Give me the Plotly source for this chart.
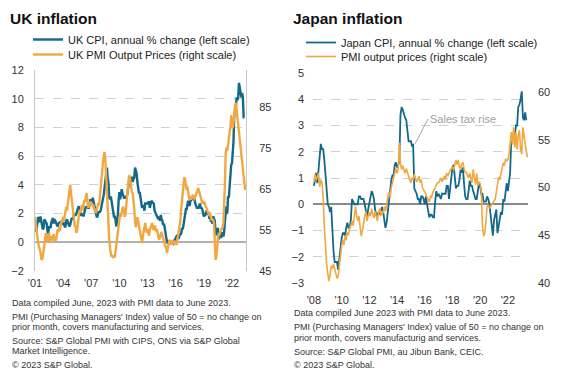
import plotly.graph_objects as go
import pandas as pd

# ---------------- DATA ----------------
uk_start = "2001-01-01"
uk_cpi = [
    0.9, 0.8, 0.9, 1.2, 1.7, 1.7, 1.4, 1.8, 1.3, 1.2, 0.9, 1.0,
    1.6, 1.5, 1.5, 1.3, 0.8, 0.6, 1.1, 1.0, 1.0, 1.4, 1.5, 1.7,
    1.3, 1.6, 1.5, 1.4, 1.3, 1.1, 1.3, 1.4, 1.4, 1.4, 1.3, 1.3,
    1.4, 1.3, 1.1, 1.1, 1.5, 1.6, 1.4, 1.3, 1.1, 1.2, 1.5, 1.7,
    1.6, 1.7, 1.9, 1.9, 1.9, 2.0, 2.3, 2.4, 2.5, 2.3, 2.1, 1.9,
    1.9, 2.0, 1.8, 2.0, 2.2, 2.5, 2.4, 2.5, 2.4, 2.4, 2.7, 3.0,
    2.7, 2.8, 3.1, 2.8, 2.5, 2.4, 1.9, 1.8, 1.8, 2.1, 2.1, 2.1,
    2.2, 2.5, 2.5, 3.0, 3.3, 3.8, 4.4, 4.7, 5.2, 4.5, 4.1, 3.1,
    3.0, 3.2, 2.9, 2.3, 2.2, 1.8, 1.8, 1.6, 1.1, 1.5, 1.9, 2.9,
    3.5, 3.0, 3.4, 3.7, 3.4, 3.2, 3.1, 3.1, 3.1, 3.2, 3.3, 3.7,
    4.0, 4.4, 4.0, 4.5, 4.5, 4.2, 4.4, 4.5, 5.2, 5.0, 4.8, 4.2,
    3.6, 3.4, 3.5, 3.0, 2.8, 2.4, 2.6, 2.5, 2.2, 2.7, 2.7, 2.7,
    2.7, 2.8, 2.8, 2.4, 2.7, 2.9, 2.8, 2.7, 2.7, 2.2, 2.1, 2.0,
    1.9, 1.7, 1.6, 1.8, 1.5, 1.9, 1.6, 1.5, 1.2, 1.3, 1.0, 0.5,
    0.3, 0.0, 0.0, -0.1, 0.1, 0.0, 0.1, 0.0, -0.1, -0.1, 0.1, 0.2,
    0.3, 0.3, 0.5, 0.3, 0.3, 0.5, 0.6, 0.6, 1.0, 0.9, 1.2, 1.6,
    1.8, 2.3, 2.3, 2.7, 2.9, 2.6, 2.6, 2.9, 3.0, 3.0, 3.1, 3.0,
    3.0, 2.7, 2.5, 2.4, 2.4, 2.4, 2.5, 2.7, 2.4, 2.4, 2.3, 2.1,
    1.8, 1.9, 1.9, 2.1, 2.0, 2.0, 2.1, 1.7, 1.7, 1.5, 1.5, 1.3,
    1.8, 1.7, 1.5, 0.8, 0.5, 0.6, 1.0, 0.2, 0.5, 0.7, 0.3, 0.6,
    0.7, 0.4, 0.7, 1.5, 2.1, 2.5, 2.0, 3.2, 3.1, 4.2, 5.1, 5.4,
    5.5, 6.2, 7.0, 9.0, 9.1, 9.4, 10.1, 9.9, 10.1, 11.1, 10.7, 10.5,
    10.1, 10.4, 10.1, 8.7, 8.7,
]
uk_pmi = [
    58.2, 56.5, 55.0, 52.6, 52.0, 51.0, 50.5, 49.6, 48.0, 47.7, 48.6, 49.6,
    51.5, 53.0, 54.3, 53.2, 52.1, 52.8, 54.3, 53.0, 52.1, 53.5, 52.5, 53.2,
    54.0, 52.1, 53.0, 52.4, 54.0, 55.2, 54.4, 55.7, 54.8, 56.5, 57.5, 56.8,
    58.2, 57.2, 58.8, 59.5, 60.6, 59.8, 61.8, 63.2, 64.5, 66.0, 64.2, 62.3,
    61.5, 59.5, 57.5, 55.7, 56.2, 54.3, 55.0, 56.5, 58.0, 59.9, 59.2, 60.6,
    61.1, 59.8, 61.5, 62.3, 61.8, 63.5, 64.0, 62.6, 60.4, 60.8, 61.6, 62.0,
    61.2, 61.6, 60.5, 61.2, 59.8, 60.2, 59.1, 59.8, 60.3, 61.6, 61.0, 63.5,
    65.5, 67.5, 69.0, 71.5, 73.0, 74.0, 72.5, 67.9, 63.5, 58.5, 54.5, 52.6,
    50.5, 49.2, 48.4, 48.8, 48.2, 48.6, 48.3, 49.8, 51.2, 53.5, 55.0, 56.2,
    57.5, 59.1, 58.2, 59.6, 60.4, 60.6, 59.5, 58.2, 59.3, 61.5, 63.5, 66.2,
    67.8, 68.4, 66.8, 66.0, 64.2, 64.0, 62.5, 60.3, 57.2, 55.7, 56.8, 58.1,
    57.2, 56.0, 55.7, 53.8, 52.6, 51.8, 53.4, 54.8, 55.2, 56.7, 55.4, 54.3,
    55.2, 54.3, 53.6, 55.1, 55.6, 56.2, 56.7, 55.4, 55.0, 56.1, 55.3, 55.0,
    55.2, 53.8, 53.1, 52.6, 53.6, 54.2, 54.3, 53.5, 53.0, 52.6, 51.8, 50.9,
    50.5, 49.4, 50.6, 52.0, 52.6, 51.8, 51.4, 52.5, 51.9, 51.5, 52.2, 52.1,
    52.1, 51.3, 52.6, 53.9, 55.7, 55.9, 57.2, 60.0, 62.3, 64.2, 66.0, 67.9,
    67.2, 66.1, 64.8, 65.6, 63.8, 63.0, 62.3, 63.2, 62.4, 63.1, 63.6, 62.8,
    62.6, 63.2, 63.6, 64.1, 64.6, 65.2, 64.4, 63.4, 63.0, 62.3, 61.4, 62.1,
    61.6, 61.8, 60.9, 60.6, 60.2, 59.4, 59.1, 58.4, 59.2, 58.1, 57.4, 57.6,
    57.4, 56.8, 52.2, 47.7, 48.6, 51.2, 53.1, 54.3, 53.8, 54.6, 55.0, 55.3,
    55.7, 56.6, 60.2, 66.3, 73.8, 75.1, 74.2, 75.6, 76.4, 77.7, 80.2, 83.0,
    81.5, 79.8, 81.0, 83.5, 85.4, 86.0, 84.2, 81.2, 79.3, 77.7, 76.1, 75.0,
    73.2, 71.3, 69.8, 68.2, 66.4, 64.8,
]

jp_start = "2008-01-01"
jp_cpi = [
    0.7, 1.0, 1.2, 0.8, 1.3, 2.0, 2.3, 2.1, 2.1, 1.7, 1.0, 0.4,
    0.0, -0.1, -0.3, -0.1, -1.1, -1.8, -2.2, -2.2, -2.2, -2.5, -1.9, -1.7,
    -1.3, -1.1, -1.1, -1.2, -0.9, -0.7, -0.9, -0.9, -0.6, 0.2, 0.1, 0.0,
    0.0, 0.0, 0.0, 0.3, 0.3, 0.2, 0.2, 0.2, 0.0, -0.2, -0.5, -0.2,
    0.1, 0.3, 0.5, 0.4, 0.2, -0.2, -0.4, -0.4, -0.3, -0.4, -0.2, -0.1,
    -0.3, -0.6, -0.9, -0.7, -0.3, 0.2, 0.7, 0.9, 1.1, 1.1, 1.5, 1.6,
    1.4, 1.5, 1.6, 3.4, 3.7, 3.6, 3.4, 3.3, 3.2, 2.9, 2.4, 2.4,
    2.4, 2.2, 2.3, 0.6, 0.5, 0.4, 0.2, 0.2, 0.0, 0.3, 0.3, 0.2,
    0.0, 0.3, 0.0, -0.3, -0.5, -0.4, -0.4, -0.5, -0.5, 0.1, 0.5, 0.3,
    0.4, 0.3, 0.2, 0.4, 0.4, 0.4, 0.4, 0.7, 0.7, 0.2, 0.6, 1.0,
    1.4, 1.5, 1.1, 0.6, 0.7, 0.7, 0.9, 1.3, 1.2, 1.4, 0.8, 0.3,
    0.2, 0.2, 0.5, 0.9, 0.7, 0.7, 0.5, 0.3, 0.2, 0.2, 0.5, 0.8,
    0.7, 0.4, 0.4, 0.1, 0.1, 0.1, 0.3, 0.2, 0.0, -0.4, -0.9, -1.2,
    -0.6, -0.4, -0.2, -1.1, -0.8, -0.5, -0.3, -0.4, 0.2, 0.1, 0.6, 0.8,
    0.5, 0.9, 1.2, 2.5, 2.5, 2.4, 2.6, 3.0, 3.0, 3.7, 3.8, 4.0,
    4.3, 3.3, 3.2, 3.5, 3.2,
]
jp_pmi = [
    50.6, 51.4, 50.8, 51.2, 51.5, 50.1, 50.8, 50.5, 49.0, 46.0, 43.5, 42.0,
    41.0, 40.2, 40.8, 41.8, 41.5, 42.0, 41.5, 41.0, 40.5, 40.7, 42.0, 43.0,
    43.9, 44.5, 44.0, 45.0, 44.5, 45.3, 45.0, 45.8, 46.0, 46.5, 46.0, 47.0,
    48.0, 47.0, 46.5, 47.0, 46.0, 44.9, 45.5, 46.5, 47.0, 47.5, 46.5, 47.0,
    47.4, 47.0, 47.8, 47.2, 46.8, 47.5, 47.0, 46.5, 47.4, 47.8, 47.0, 47.5,
    47.4, 48.0, 47.5, 48.5, 49.0, 49.5, 49.0, 50.0, 50.5, 51.0, 51.5, 52.0,
    51.5, 52.0, 54.7, 52.5, 51.9, 52.3, 51.8, 51.5, 52.0, 51.5, 51.0, 50.8,
    50.5, 51.0, 50.8, 51.4, 51.0, 50.6, 50.8, 51.2, 50.5, 50.8, 50.0, 49.8,
    49.5, 49.3, 49.0, 48.8, 48.5, 49.1, 49.0, 49.5, 49.8, 50.0, 50.3, 50.5,
    50.5, 50.8, 51.0, 50.6, 51.0, 51.2, 50.8, 51.5, 51.2, 51.6, 51.8, 52.0,
    52.2, 51.8, 52.5, 52.9, 52.4, 52.9, 52.2, 51.9, 52.5, 52.6, 52.0, 51.6,
    51.6, 51.2, 51.0, 51.5, 50.8, 50.5, 51.9, 50.8, 50.3, 51.5, 50.2, 50.6,
    50.4, 49.5, 46.0, 44.9, 45.2, 46.5, 48.0, 48.2, 47.8, 48.0, 48.2, 48.4,
    48.5, 48.8, 49.5, 50.2, 51.1, 50.8, 51.5, 52.0, 52.6, 52.3, 53.0, 52.8,
    52.9, 53.5, 55.0, 55.8, 54.5, 56.3, 54.2, 55.8, 54.0, 55.5, 56.0, 54.0,
    53.5, 56.3, 55.5, 54.5, 53.8, 53.2,
]

uk_tick_years = [2001, 2004, 2007, 2010, 2013, 2016, 2019, 2022]
jp_tick_years = [2008, 2010, 2012, 2014, 2016, 2018, 2020, 2022]

uk_footnotes = [
    "Data compiled June, 2023 with PMI data to June 2023.",
    "PMI (Purchasing Managers' Index) value of 50 = no change on",
    "prior month, covers manufacturing and services.",
    "Source: S&P Global PMI with CIPS, ONS via S&P Global",
    "Market Intelligence.",
    "© 2023 S&P Global.",
]
jp_footnotes = [
    "Data compiled June 2023 with PMI data to June 2023.",
    "PMI (Purchasing Managers' Index) value of 50 = no change on",
    "prior month, covers manufacturig and services.",
    "Source: S&P Global PMI, au Jibun Bank, CEIC.",
    "© 2023 S&P Global.",
]

# ---------------- STYLE / LAYOUT ----------------
TEAL = "#12698a"
ORANGE = "#f2a841"
FONT = "Arial, Liberation Sans, sans-serif"
PAGE_OFF = 8                       # default page margin around the figure div
W, H = 575 - PAGE_OFF, 373 - PAGE_OFF

def px_x(p):
    return (p - PAGE_OFF) / W

def px_y(p):
    return 1 - (p - PAGE_OFF) / H

uk_cpi_d = pd.date_range(uk_start, periods=len(uk_cpi), freq="MS")
uk_pmi_d = pd.date_range(uk_start, periods=len(uk_pmi), freq="MS")
jp_cpi_d = pd.date_range(jp_start, periods=len(jp_cpi), freq="MS")
jp_pmi_d = pd.date_range(jp_start, periods=len(jp_pmi), freq="MS")

fig = go.Figure()
fig.add_trace(go.Scatter(x=uk_cpi_d, y=uk_cpi, xaxis="x", yaxis="y", mode="lines",
                         line=dict(color=TEAL, width=2.4),
                         name="UK CPI, annual % change (left scale)", legend="legend"))
fig.add_trace(go.Scatter(x=uk_pmi_d, y=uk_pmi, xaxis="x", yaxis="y2", mode="lines",
                         line=dict(color=ORANGE, width=2.4),
                         name="UK PMI Output Prices (right scale)", legend="legend2"))
fig.add_trace(go.Scatter(x=jp_cpi_d, y=jp_cpi, xaxis="x2", yaxis="y3", mode="lines",
                         line=dict(color=TEAL, width=1.8),
                         name="Japan CPI, annual % change (left scale)", legend="legend3"))
fig.add_trace(go.Scatter(x=jp_pmi_d, y=jp_pmi, xaxis="x2", yaxis="y4", mode="lines",
                         line=dict(color=ORANGE, width=1.6),
                         name="PMI output prices (right scale)", legend="legend4"))

tick_font = dict(family=FONT, size=11, color="#333333")
grid = dict(showgrid=True, gridcolor="#d0d0d0", griddash="dash", gridwidth=1)
leg_font = dict(family=FONT, size=11, color="#222222")

def leg(x, ytop):
    return dict(x=px_x(x), y=px_y(ytop), xanchor="left", yanchor="top",
                bgcolor="rgba(0,0,0,0)", font=leg_font, itemwidth=30)

fig.update_layout(
    template="none",
    width=W, height=H,
    margin=dict(l=0, r=0, t=0, b=0, pad=0, autoexpand=False),
    paper_bgcolor="white", plot_bgcolor="white",
    font=dict(family=FONT, size=11, color="#222222"),
    xaxis=dict(domain=[px_x(35), px_x(246)], anchor="y", automargin=False,
               range=["2001-01-01", "2023-07-01"],
               tickvals=[f"{y}-01-01" for y in uk_tick_years],
               ticktext=[f"'{str(y)[2:]}" for y in uk_tick_years],
               showgrid=False, zeroline=False, showline=False,
               tickfont=tick_font, ticks="", ticklabelstandoff=4),
    yaxis=dict(domain=[px_y(271), px_y(70)], anchor="x", range=[-2, 12], dtick=2,
               automargin=False,
               **grid, zeroline=True, zerolinecolor="#b0b0b0", zerolinewidth=1.5,
               showline=True, linecolor="#c8c8c8", linewidth=1,
               tickfont=tick_font, ticks="", ticklabelstandoff=8),
    yaxis2=dict(overlaying="y", anchor="x", side="right", range=[45, 94],
                automargin=False,
                tickvals=[45, 55, 65, 75, 85], showgrid=False, zeroline=False,
                showline=True, linecolor="#c8c8c8", linewidth=1,
                tickfont=tick_font, ticks="", ticklabelstandoff=10),
    xaxis2=dict(domain=[px_x(313), px_x(528)], anchor="y3", automargin=False,
                range=["2007-12-08", "2023-06-15"],
                tickvals=[f"{y}-01-01" for y in jp_tick_years],
                ticktext=[f"'{str(y)[2:]}" for y in jp_tick_years],
                showgrid=False, zeroline=False, showline=False,
                tickfont=tick_font, ticks="", ticklabelstandoff=9),
    yaxis3=dict(domain=[px_y(283), px_y(73)], anchor="x2", range=[-3, 5], dtick=1,
                automargin=False,
                **grid, zeroline=True, zerolinecolor="#8a8a8a", zerolinewidth=1.5,
                showline=False, tickfont=tick_font, ticks="", ticklabelstandoff=8),
    yaxis4=dict(overlaying="y3", anchor="x2", side="right", range=[40, 62],
                automargin=False,
                tickvals=[40, 45, 50, 55, 60], showgrid=False, zeroline=False,
                showline=False, tickfont=tick_font, ticks="", ticklabelstandoff=9),
    legend=leg(28, 25),
    legend2=leg(28, 40),
    legend3=leg(301, 28),
    legend4=leg(301, 42),
    showlegend=True,
    hovermode=False,
)

ann = []
ann.append(dict(text="<b>UK inflation</b>", xref="paper", yref="paper", x=px_x(8), y=px_y(18),
                xanchor="left", yanchor="middle", showarrow=False,
                font=dict(family=FONT, size=15.5, color="#111111")))
ann.append(dict(text="<b>Japan inflation</b>", xref="paper", yref="paper", x=px_x(291), y=px_y(18),
                xanchor="left", yanchor="middle", showarrow=False,
                font=dict(family=FONT, size=15.5, color="#111111")))

uk_foot_y = [303, 317, 327, 341, 351, 365]
for t, yy in zip(uk_footnotes, uk_foot_y):
    ann.append(dict(text=t, xref="paper", yref="paper", x=px_x(10), y=px_y(yy),
                    xanchor="left", yanchor="middle", showarrow=False,
                    font=dict(family=FONT, size=9, color="#333333")))
jp_foot_y = [313, 327, 338, 352, 365]
for t, yy in zip(jp_footnotes, jp_foot_y):
    ann.append(dict(text=t, xref="paper", yref="paper", x=px_x(292), y=px_y(yy),
                    xanchor="left", yanchor="middle", showarrow=False,
                    font=dict(family=FONT, size=9, color="#333333")))

ann.append(dict(text="Sales tax rise", xref="x2", yref="y3", x="2015-04-20", y=2.3,
                ax=13, ay=-25, axref="pixel", ayref="pixel",
                xanchor="left", yanchor="middle",
                showarrow=True, arrowhead=0, arrowwidth=1, arrowcolor="#a6a6a6",
                font=dict(family=FONT, size=11, color="#a0a0a0")))

fig.update_layout(annotations=ann)

fig.write_html("out.html")
